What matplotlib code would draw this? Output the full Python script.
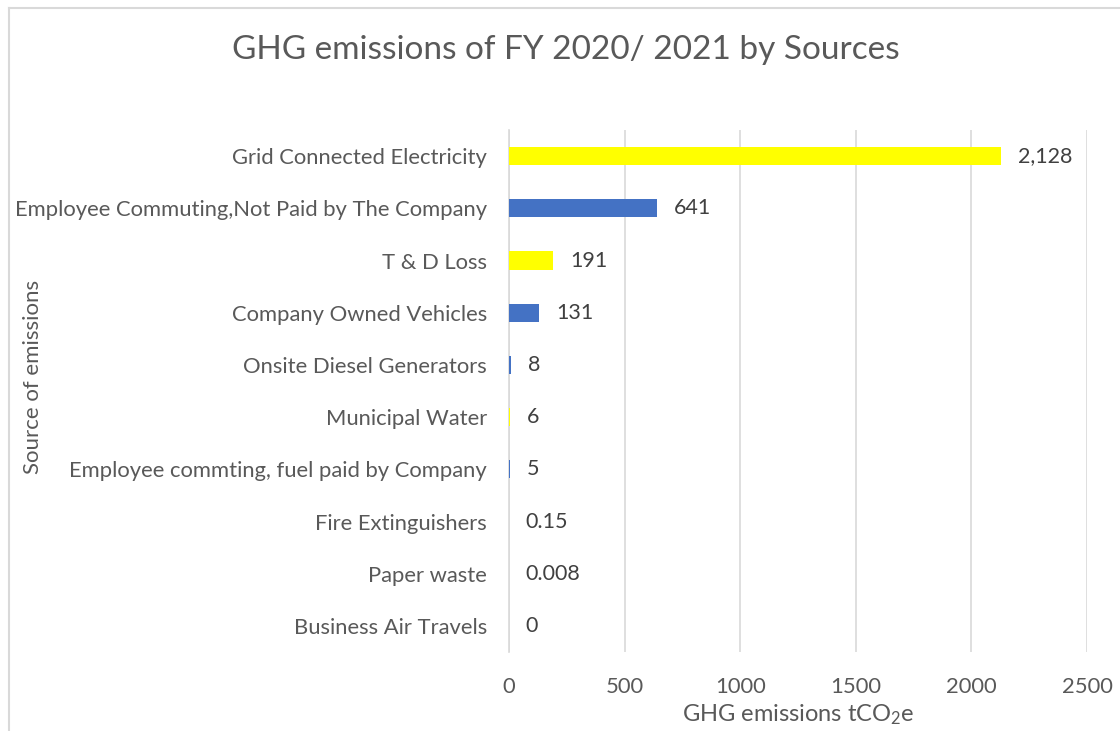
import matplotlib
matplotlib.use("Agg")
import matplotlib.pyplot as plt
from matplotlib.lines import Line2D

categories = [
    "Grid Connected Electricity",
    "Employee Commuting,Not Paid by The Company",
    "T & D Loss",
    "Company Owned Vehicles",
    "Onsite Diesel Generators",
    "Municipal Water",
    "Employee commting, fuel paid by Company",
    "Fire Extinguishers",
    "Paper waste",
    "Business Air Travels",
]
values = [2128, 641, 191, 131, 8, 6, 5, 0.15, 0.008, 0]
value_labels = ["2,128", "641", "191", "131", "8", "6", "5", "0.15", "0.008", "0"]
bar_colors = ["#FFFF00", "#4472C4", "#FFFF00", "#4472C4", "#4472C4",
              "#FFFF00", "#4472C4", "#4472C4", "#FFFF00", "#4472C4"]
x_ticks = [0, 500, 1000, 1500, 2000, 2500]

plt.rcParams['font.family'] = ['Lato', 'DejaVu Sans']
plt.rcParams['mathtext.fontset'] = 'custom'
plt.rcParams['mathtext.rm'] = 'Lato'
plt.rcParams['mathtext.it'] = 'Lato:italic'
plt.rcParams['mathtext.bf'] = 'Lato:bold'
text_color = "#595959"

fig = plt.figure(figsize=(11.2, 7.31), dpi=100)
ax = fig.add_axes([509/1120, 1 - 652/731, (1087 - 509)/1120, (652 - 130)/731])

y = list(range(len(categories)))
ax.barh(y, values, height=0.35, color=bar_colors, zorder=3)
ax.set_ylim(len(categories) - 0.5, -0.5)
ax.set_xlim(0, 2500)
ax.set_xticks(x_ticks)
ax.set_xticklabels([str(t) for t in x_ticks])
ax.set_yticks(y)
ax.set_yticklabels(categories)

for yi, v, lab in zip(y, values, value_labels):
    ax.annotate(lab, xy=(v, yi), xytext=(12, 0), textcoords="offset points",
                va="center", ha="left", fontsize=15.5, color="#404040")

ax.grid(axis="x", color="#d9d9d9", linewidth=1.2, zorder=0)
ax.set_axisbelow(True)
for s in ["top", "right", "bottom"]:
    ax.spines[s].set_visible(False)
ax.spines["left"].set_color("#d9d9d9")
ax.spines["left"].set_linewidth(1.2)
ax.tick_params(axis="both", length=0, labelsize=15.8, labelcolor=text_color)
ax.tick_params(axis="y", pad=16)
ax.tick_params(axis="x", pad=18)

ax.set_xlabel("GHG emissions tCO$_2$e", fontsize=17, color=text_color, labelpad=4)
fig.text(33/1120, 1 - 377/731, "Source of emissions", rotation=90, fontsize=16,
         color=text_color, ha="center", va="center")
fig.text(566/1120, 1 - 50/731, "GHG emissions of FY 2020/ 2021 by Sources",
         fontsize=24, color=text_color, ha="center", va="center")

# chart border (light gray)
fig.add_artist(Line2D([8.5/1120, 8.5/1120], [0, 1 - 7.5/731], transform=fig.transFigure,
                      color="#d9d9d9", linewidth=1.5))
fig.add_artist(Line2D([8.5/1120, 1], [1 - 7.5/731, 1 - 7.5/731], transform=fig.transFigure,
                      color="#d9d9d9", linewidth=1.5))

fig.savefig("out.png", dpi=100, facecolor="white")
